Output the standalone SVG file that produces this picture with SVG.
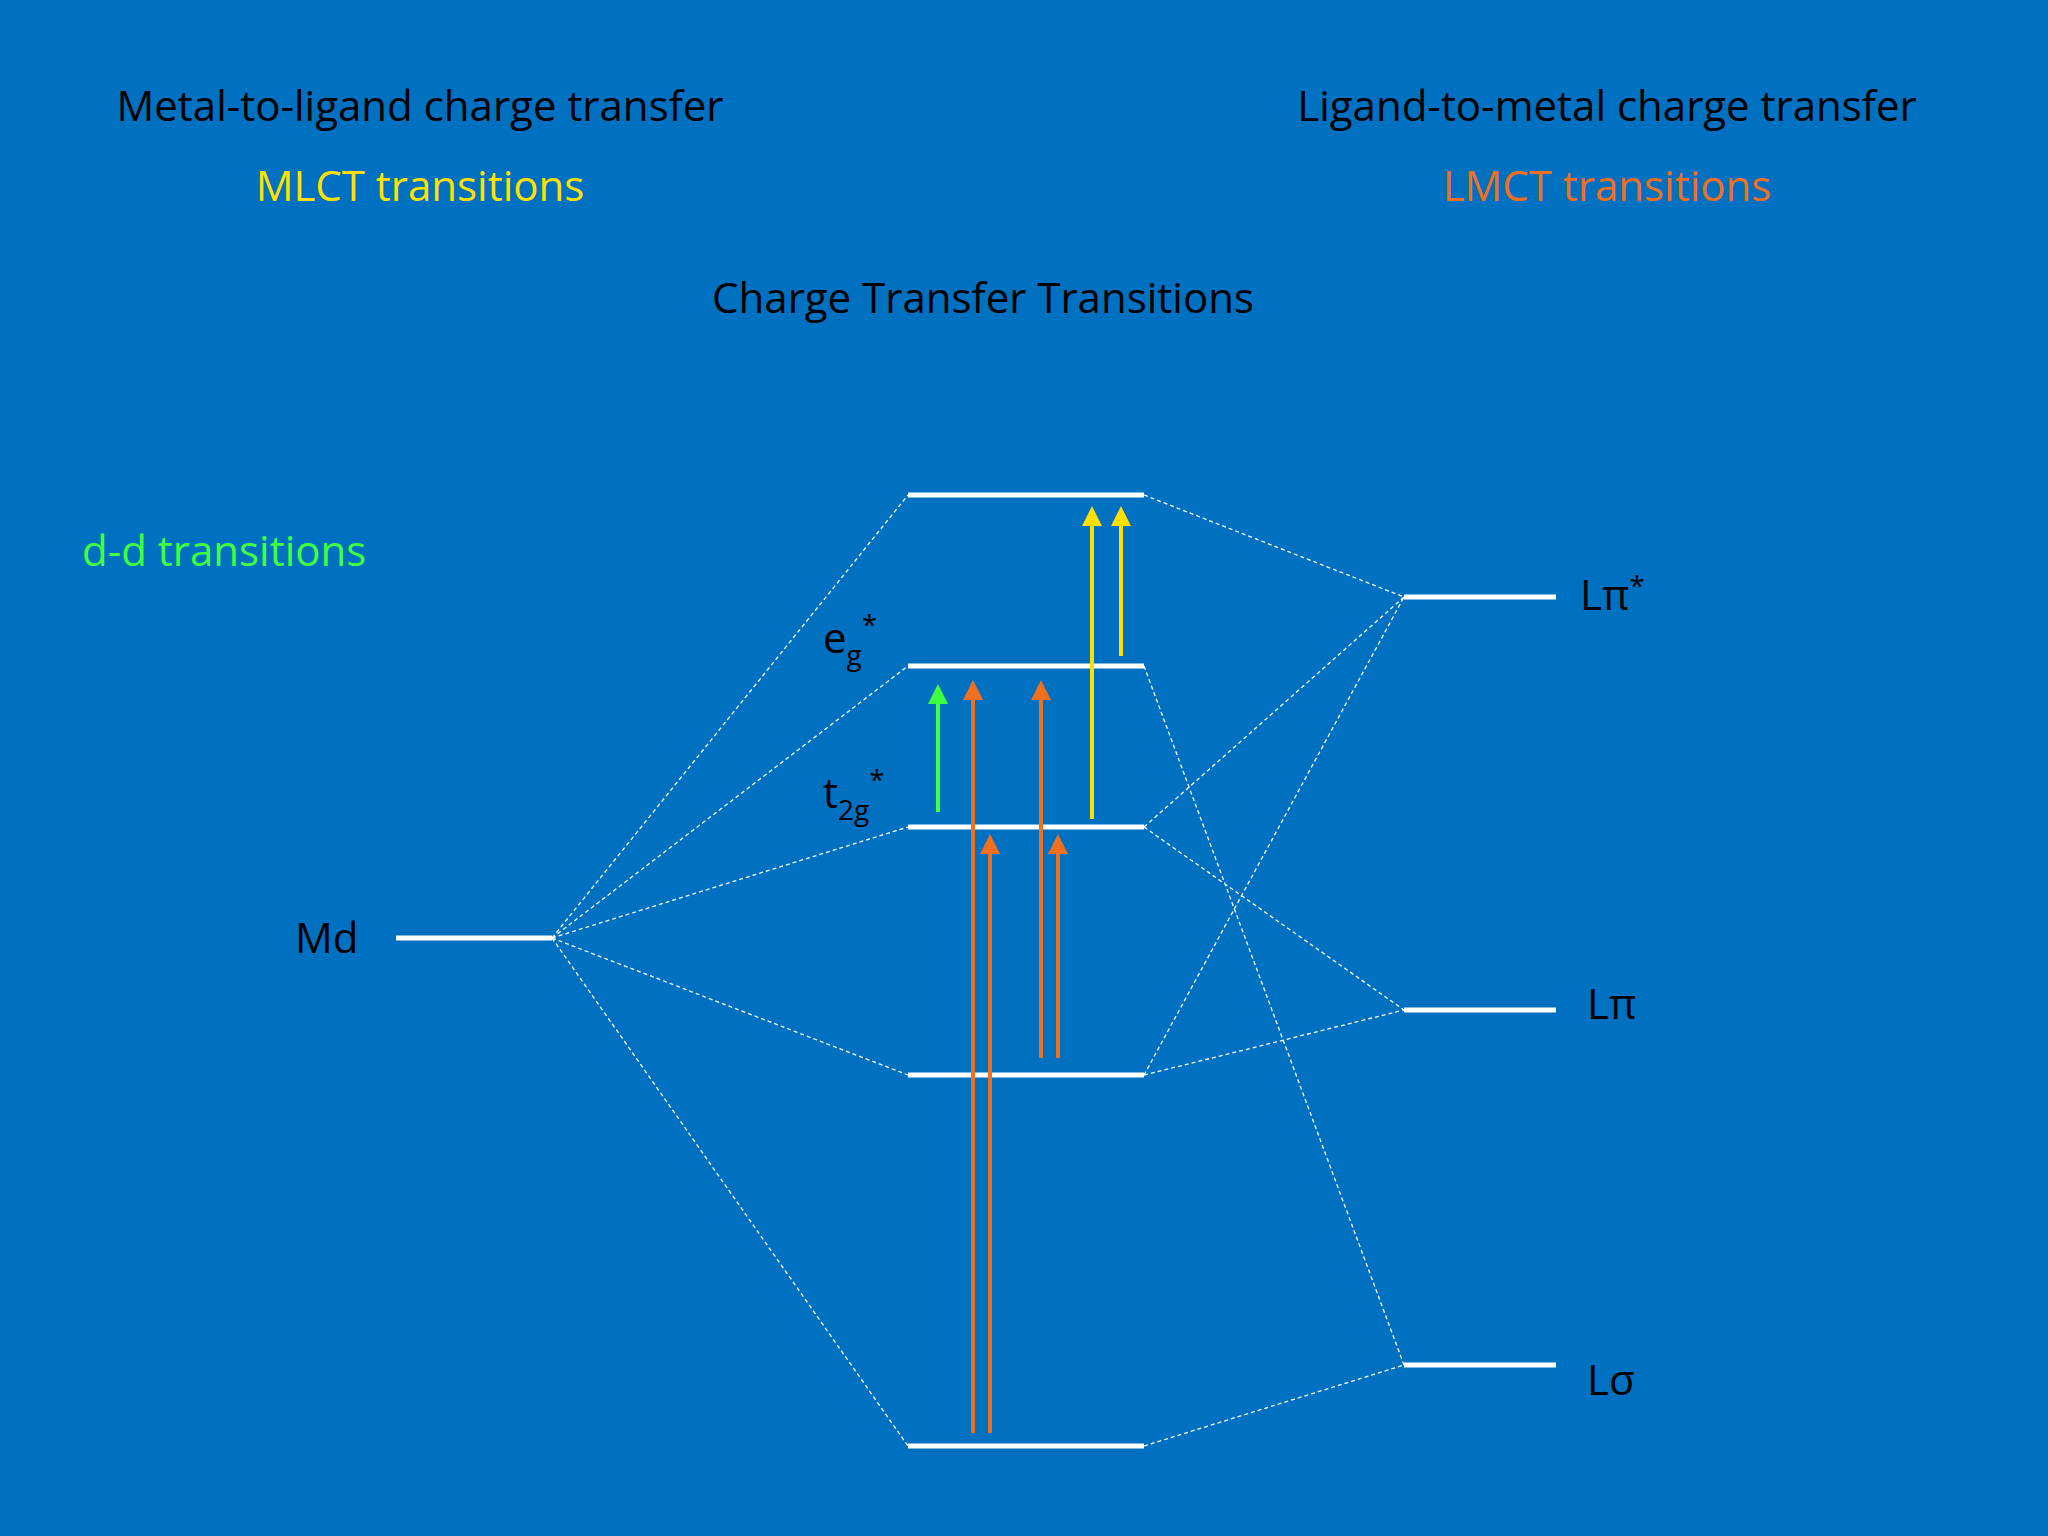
<svg xmlns="http://www.w3.org/2000/svg" width="2048" height="1536" viewBox="0 0 2048 1536">
<style>
text{font-family:"Open Sans","Liberation Sans",sans-serif;font-size:42px;fill:#000}
.lv{stroke:#fff;stroke-width:5;fill:none}
.d{stroke:#fff;stroke-width:1.3;stroke-dasharray:4 3;fill:none}
.ar{stroke-width:4;fill:none}
</style>
<defs>
<marker id="mo" markerWidth="5" markerHeight="5" refX="4" refY="2.5" orient="auto" markerUnits="strokeWidth"><path d="M0,0L5,2.5L0,5z" fill="#F07020"/></marker>
<marker id="my" markerWidth="5" markerHeight="5" refX="4" refY="2.5" orient="auto" markerUnits="strokeWidth"><path d="M0,0L5,2.5L0,5z" fill="#FFE000"/></marker>
<marker id="mg" markerWidth="5" markerHeight="5" refX="4" refY="2.5" orient="auto" markerUnits="strokeWidth"><path d="M0,0L5,2.5L0,5z" fill="#40FF40"/></marker>
</defs>
<rect width="2048" height="1536" fill="#0070C0"/>
<g id="titles" text-anchor="middle">
<text x="420" y="121">Metal-to-ligand charge transfer</text>
<text x="420" y="201" fill="#FFE000" style="fill:#FFE000">MLCT transitions</text>
<text x="1607" y="121">Ligand-to-metal charge transfer</text>
<text x="1607" y="201" style="fill:#F07020">LMCT transitions</text>
<text x="983" y="313">Charge Transfer Transitions</text>
</g>
<text id="dd" x="82" y="566" style="fill:#40FF40">d-d transitions</text>
<g id="connectors">
<path class="d" d="M552,938L908,495M552,938L908,666M552,938L908,827M552,938L908,1075M552,938L908,1446"/>
<path class="d" d="M1144,495L1404,597M1144,666L1404,1365M1144,827L1404,597M1144,827L1404,1010M1144,1075L1404,1010M1144,1075L1404,597M1144,1446L1404,1365"/>
</g>
<g id="md"><line class="lv" x1="396" y1="938" x2="552" y2="938"/><text x="295" y="953">Md</text></g>
<g id="mo1"><line class="lv" x1="908" y1="495" x2="1144" y2="495"/></g>
<g id="eg"><line class="lv" x1="908" y1="666" x2="1144" y2="666"/><text x="823" y="653">e<tspan font-size="28" dy="12">g</tspan><tspan font-size="28" dy="-30">*</tspan></text></g>
<g id="t2g"><line class="lv" x1="908" y1="827" x2="1144" y2="827"/><text x="823" y="808">t<tspan font-size="28" dy="12">2g</tspan><tspan font-size="28" dy="-30">*</tspan></text></g>
<g id="mo4"><line class="lv" x1="908" y1="1075" x2="1144" y2="1075"/></g>
<g id="mo5"><line class="lv" x1="908" y1="1446" x2="1144" y2="1446"/></g>
<g id="lpistar"><line class="lv" x1="1404" y1="597" x2="1556" y2="597"/><text x="1580" y="610">Lπ<tspan font-size="28" dy="-14">*</tspan></text></g>
<g id="lpi"><line class="lv" x1="1404" y1="1010" x2="1556" y2="1010"/><text x="1587" y="1019">Lπ</text></g>
<g id="lsigma"><line class="lv" x1="1404" y1="1365" x2="1556" y2="1365"/><text x="1587" y="1395">Lσ</text></g>
<g id="arrows">
<line class="ar" stroke="#40FF40" x1="938" y1="812" x2="938" y2="688" marker-end="url(#mg)"/>
<line class="ar" stroke="#F07020" x1="973" y1="1433" x2="973" y2="684" marker-end="url(#mo)"/>
<line class="ar" stroke="#F07020" x1="990" y1="1433" x2="990" y2="838" marker-end="url(#mo)"/>
<line class="ar" stroke="#F07020" x1="1041" y1="1058" x2="1041" y2="684" marker-end="url(#mo)"/>
<line class="ar" stroke="#F07020" x1="1058" y1="1058" x2="1058" y2="838" marker-end="url(#mo)"/>
<line class="ar" stroke="#FFE000" x1="1092" y1="819" x2="1092" y2="510" marker-end="url(#my)"/>
<line class="ar" stroke="#FFE000" x1="1121" y1="656" x2="1121" y2="510" marker-end="url(#my)"/>
</g>
</svg>
